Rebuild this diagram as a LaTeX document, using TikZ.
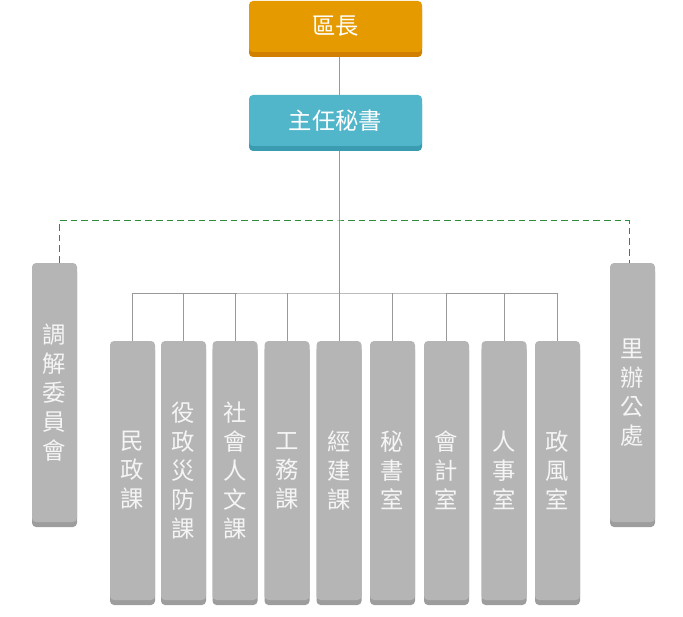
\documentclass[tikz,border=0pt]{standalone}
\usepackage{fontspec}
\newfontfamily\cjk{Noto Sans CJK TC}
\usepackage{tikz}
\usetikzlibrary{positioning,shadows,backgrounds,calc}
\usepackage{xcolor}
\definecolor{corange}{RGB}{229,154,0}
\definecolor{corangedk}{RGB}{209,127,0}
\definecolor{cteal}{RGB}{82,182,203}
\definecolor{ctealdk}{RGB}{59,155,176}
\definecolor{cgray}{RGB}{181,181,181}
\definecolor{cgraydk}{RGB}{157,157,157}
\definecolor{clink}{RGB}{153,153,153}
\definecolor{cdash}{RGB}{46,139,58}

\begin{document}
\begin{tikzpicture}[x=0.75pt,y=-0.75pt,font=\cjk\fontsize{17.5}{21.75}\selectfont,
    every node/.style={rounded corners=3pt,align=center,inner sep=0pt,text=white},
    headbox/.style={minimum width=129.75pt,minimum height=38.25pt},
    unitbox/.style={fill=cgray,minimum width=33.75pt,minimum height=194.25pt,text=white!96!black,
      general shadow={fill=cgraydk,shadow yshift=-3.75pt}},
    link/.style={draw=clink,line width=0.75pt},
    dashlink/.style={draw=cdash,line width=0.75pt,dash pattern=on 5pt off 3pt}]
    \useasboundingbox (0,0) rectangle (683,617);
    % top
    \node[headbox,fill=corange,general shadow={fill=corangedk,shadow yshift=-3.75pt}] (chief) at (335.5,26.5) {區長};
    \node[headbox,fill=cteal,general shadow={fill=ctealdk,shadow yshift=-3.75pt}] (sec) at (335.5,120.5) {主任秘書};
    % side units
    \node[unitbox] (med) at (54.5,392.5) {調\\解\\委\\員\\會};
    \node[unitbox] (vil) at (632.5,392.5) {里\\辦\\公\\處};
    % sections
    \node[unitbox] (c1) at (132.5,470.5) {民\\政\\課};
    \node[unitbox] (c2) at (183.5,470.5) {役\\政\\災\\防\\課};
    \node[unitbox] (c3) at (235,470.5) {社\\會\\人\\文\\課};
    \node[unitbox] (c4) at (287,470.5) {工\\務\\課};
    \node[unitbox] (c5) at (339,470.5) {經\\建\\課};
    \node[unitbox] (c6) at (392.5,470.5) {秘\\書\\室};
    \node[unitbox] (c7) at (446.5,470.5) {會\\計\\室};
    \node[unitbox] (c8) at (504,470.5) {人\\事\\室};
    \node[unitbox] (c9) at (557.5,470.5) {政\\風\\室};
    \coordinate (bus) at (339,293);
    \coordinate (dash) at (339,221);
    \begin{scope}[on background layer]
      \draw[link] (chief.south -| c5) -- (sec.north -| c5);
      \draw[link] (sec.south -| c5) -- (c5.north);
      \draw[link] (c1.north) |- (bus) -| (c9.north);
      \foreach \i in {2,3,4,6,7,8} \draw[link] (c\i.north) -- (c\i.north |- bus);
      \draw[dashlink] ([xshift=3.5pt]med.north) |- (dash) -| ([xshift=-2.25pt]vil.north);
    \end{scope}
  \end{tikzpicture}
\end{document}
